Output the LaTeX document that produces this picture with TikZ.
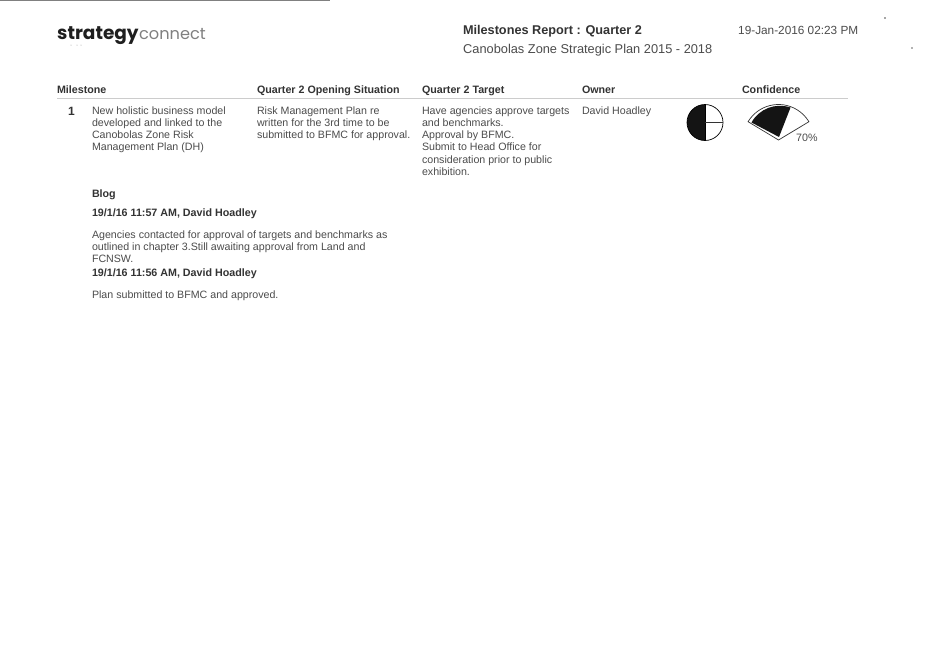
\documentclass[tikz,border=0pt]{standalone}
\usepackage{fontspec}
\usetikzlibrary{calc}
\setmainfont{Liberation Sans}
\newfontfamily\logofont{Poppins}
\definecolor{ink}{gray}{0.2}
\definecolor{softink}{gray}{0.3}
\tikzset{
 px/.style={x=1pt,y=-1pt},
 txt/.style={anchor=north west,inner sep=0pt,outer sep=0pt,align=left,text=softink,font=\fontsize{10.65}{12.25}\selectfont},
 hdr/.style={anchor=base west,inner sep=0pt,outer sep=0pt,text=ink,font=\fontsize{10.7}{12}\selectfont\bfseries},
 rulegrey/.style={draw=black!20,line width=0.7pt},
 speck/.style={fill=black!70,draw=none}
}
\begin{document}
\begin{tikzpicture}[px]
\useasboundingbox (0,0) rectangle (941,664);
\fill[white] (0,0) rectangle (941,664);
% top scan edge
\draw[black!50,line width=1.4pt] (0,0.7) -- (330,0.7);
\coordinate (ra) at (57,98);
\coordinate (rb) at (848,98);
\draw[rulegrey] (ra) -- (rb);
% specks
\fill[speck] (885,18) circle[radius=0.9];
\fill[black!60] (912,48) circle[radius=0.8];
% logo
\node[anchor=base west,inner sep=0pt,text=black!88] (logo) at (57,39.5) {\logofont\fontsize{18.5}{24}\selectfont\bfseries strategy};
\node[anchor=base west,inner sep=0pt,text=black!50] (logob) at (logo.base east) {\logofont\fontsize{16.2}{24}\selectfont connect};
\fill[black!40] (71,45) circle[radius=0.5] (77,45) circle[radius=0.5] (81,45) circle[radius=0.5];
% titles
\node[hdr,font=\fontsize{12.7}{14}\selectfont\bfseries] (t1) at (463,34.5) {Milestones Report : Quarter 2};
\node[anchor=base west,inner sep=0pt,text=softink,font=\fontsize{12.8}{14}\selectfont] (t2) at (463,53.5) {Canobolas Zone Strategic Plan 2015 - 2018};
\node[anchor=base west,inner sep=0pt,text=softink,font=\fontsize{11.8}{14}\selectfont] (t3) at (738,34.5) {19-Jan-2016 02:23 PM};
% headers
\node[hdr] (h1) at (57,93) {Milestone};
\node[hdr] (h2) at (257,93) {Quarter 2 Opening Situation};
\node[hdr] (h3) at (422,93) {Quarter 2 Target};
\node[hdr] (h4) at (582,93) {Owner};
\node[hdr] (h5) at (742,93) {Confidence};
% row
\node[hdr,font=\fontsize{12}{14}\selectfont\bfseries] (n1) at (68,115) {1};
\node[txt] (c1) at (92,106.3) {New holistic business model\\developed and linked to the\\Canobolas Zone Risk\\Management Plan (DH)};
\node[txt] (c2) at (257,106.3) {Risk Management Plan re\\written for the 3rd time to be\\submitted to BFMC for approval.};
\node[txt] (c3) at (422,106.3) {Have agencies approve targets\\and benchmarks.\\Approval by BFMC.\\Submit to Head Office for\\consideration prior to public\\exhibition.};
\node[txt] (c4) at (582,106.3) {David Hoadley};
% blog
\node[hdr] (b0) at (92,197) {Blog};
\node[hdr] (b1) at (92,216) {19/1/16 11:57 AM, David Hoadley};
\node[txt] (b2) at (92,230.3) {Agencies contacted for approval of targets and benchmarks as\\outlined in chapter 3.Still awaiting approval from Land and\\FCNSW.};
\node[hdr] (b3) at (92,276) {19/1/16 11:56 AM, David Hoadley};
\node[txt] (b4) at (92,290.5) {Plan submitted to BFMC and approved.};
% pie
\coordinate (pc) at (705,122.5);
\fill[black!92] (pc) ++(0,-18) arc[start angle=270,end angle=90,radius=18] -- cycle;
\draw[black,line width=0.7pt] (pc) circle[radius=18];
\draw[black,line width=0.9pt] ($(pc)+(0,-18)$) -- ($(pc)+(0,18)$);
\draw[black!80,line width=0.9pt] (pc) -- ($(pc)+(18,0)$);
% gauge: arcs clockwise on the page as angles grow, since y points down
\coordinate (gc) at (778.5,140);
\draw[black!80,line width=0.7pt] (gc) -- ++(211:35.5) arc[start angle=211,end angle=329,radius=35.5] -- cycle;
\fill[black!92] (779,137) -- (751.5,122.5) arc[start angle=209,end angle=289,radius=32.5] -- cycle;
\node[anchor=base west,inner sep=0pt,text=softink,font=\fontsize{10.7}{12}\selectfont] (pct) at (796,141.5) {70\%};
\end{tikzpicture}
\end{document}
